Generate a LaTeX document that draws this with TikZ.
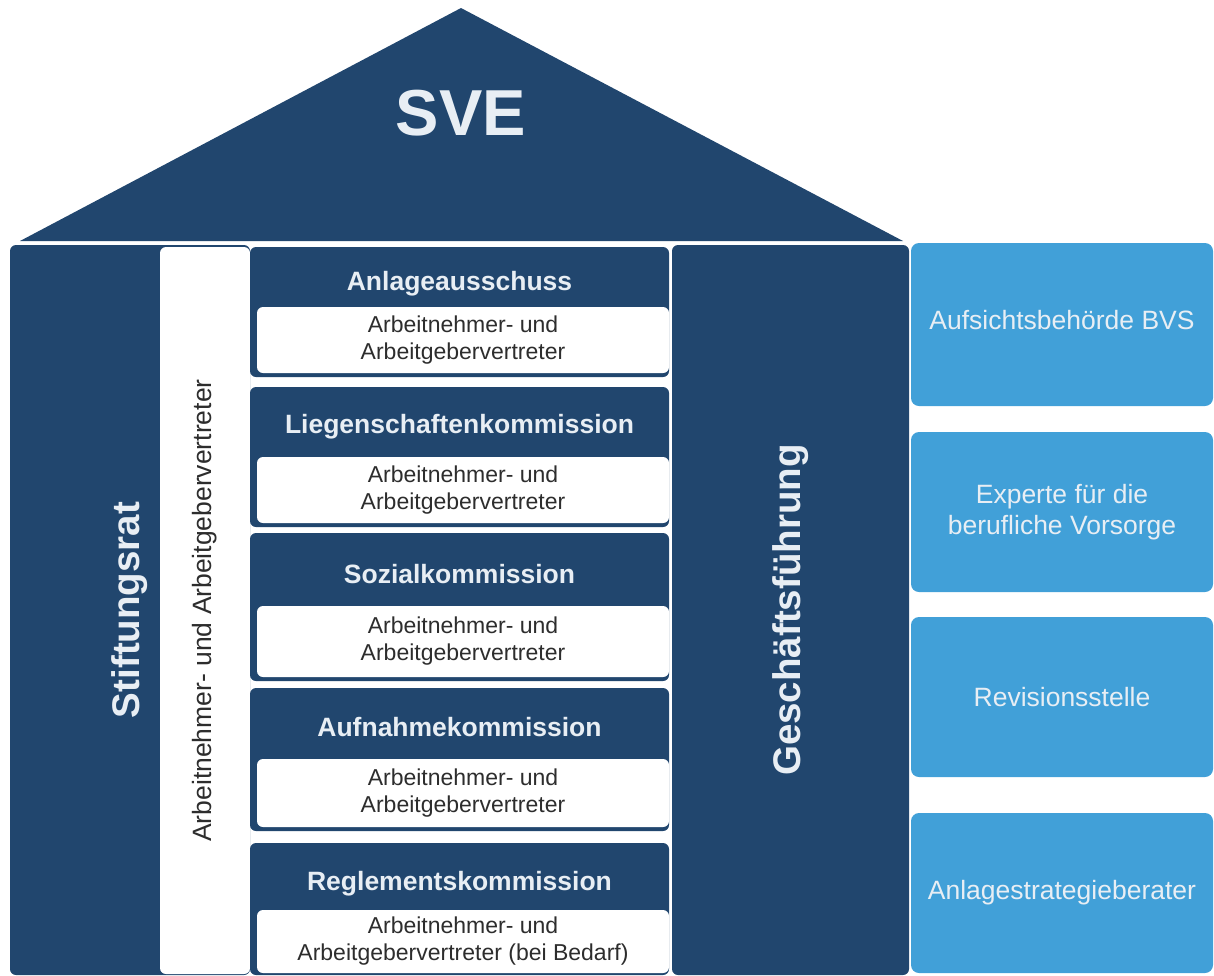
\documentclass[tikz,border=0pt]{standalone}
\usepackage{fontspec}
\setmainfont{Liberation Sans}
\usepackage{xcolor}
\usetikzlibrary{positioning, calc}

\definecolor{navy}{RGB}{33,70,110}
\definecolor{skyblue}{RGB}{65,160,216}
\definecolor{paletext}{RGB}{232,238,244}
\definecolor{darktext}{RGB}{45,45,45}

\begin{document}
\begin{tikzpicture}[
    x=1pt, y=-1pt,
    pillar/.style={
        rectangle,
        fill=navy,
        rounded corners=6pt,
        inner sep=0pt
    },
    whitecol/.style={
        rectangle,
        fill=white,
        rounded corners=6pt,
        inner sep=0pt
    },
    kommbox/.style={
        pillar,
        minimum width=419pt
    },
    kommtitle/.style={
        text=paletext,
        font=\fontsize{26.5}{30}\selectfont\bfseries
    },
    memberbox/.style={
        whitecol,
        minimum width=412pt,
        align=center,
        text=darktext,
        font=\fontsize{23}{27}\selectfont
    },
    infobox/.style={
        rectangle,
        fill=skyblue,
        rounded corners=8pt,
        minimum width=302pt,
        minimum height=160pt,
        inner sep=0pt,
        align=center,
        text=paletext,
        font=\fontsize{26.5}{31}\selectfont
    },
    bigtitle/.style={
        text=paletext,
        font=\fontsize{38.5}{40}\selectfont\bfseries
    }
]

\useasboundingbox (0,0) rectangle (1214,975);

% Dach
\fill[navy] (461,8) -- (903,241) -- (20,241) -- cycle;
\node[text=paletext, font=\fontsize{65}{70}\selectfont\bfseries] (sve) at (461,113) {SVE};

% Stiftungsrat mit Vertreterspalte
\node[pillar, minimum width=240pt, minimum height=730pt] (rat) at (130,610) {};
\node[bigtitle, rotate=90] (ratT) at (130,610) {Stiftungsrat};
\node[whitecol, minimum width=90pt, minimum height=727pt] (vertreter) at (205,610.5) {};
\node[rotate=90, text=darktext, font=\fontsize{26.5}{30}\selectfont] (vertreterT) at (vertreter.center)
    {Arbeitnehmer- und Arbeitgebervertreter};

% Kommissionen
\node[kommbox, minimum height=130pt] (anlage) at (459.5,312) {};
\node[kommtitle] (anlageT) at (459.5,284) {Anlageausschuss};
\node[memberbox, minimum height=66pt] (anlageM) at (463,340)
    {Arbeitnehmer- und\\Arbeitgebervertreter};

\node[kommbox, minimum height=140pt] (liegen) at (459.5,457) {};
\node[kommtitle] (liegenT) at (459.5,427) {Liegenschaftenkommission};
\node[memberbox, minimum height=66pt] (liegenM) at (463,490)
    {Arbeitnehmer- und\\Arbeitgebervertreter};

\node[kommbox, minimum height=148pt] (sozial) at (459.5,607) {};
\node[kommtitle] (sozialT) at (459.5,574) {Sozialkommission};
\node[memberbox, minimum height=71pt] (sozialM) at (463,641.5)
    {Arbeitnehmer- und\\Arbeitgebervertreter};

\node[kommbox, minimum height=143pt] (aufnahme) at (459.5,759.5) {};
\node[kommtitle] (aufnahmeT) at (459.5,727) {Aufnahmekommission};
\node[memberbox, minimum height=68pt] (aufnahmeM) at (463,793)
    {Arbeitnehmer- und\\Arbeitgebervertreter};

\node[kommbox, minimum height=132pt] (reglement) at (459.5,909) {};
\node[kommtitle] (reglementT) at (459.5,884) {Reglementskommission};
\node[memberbox, minimum height=63pt] (reglementM) at (463,941.5)
    {Arbeitnehmer- und\\Arbeitgebervertreter (bei Bedarf)};

% Geschaeftsfuehrung
\node[pillar, minimum width=237pt, minimum height=730pt] (gf) at (790.5,610) {};
\node[bigtitle, rotate=90] (gfT) at (gf.center) {Geschäftsführung};

% externe Stellen
\node[infobox, minimum height=163pt] (bvs) at (1062,324.5) {};
\node[text=paletext, font=\fontsize{26.5}{31}\selectfont] (bvsT) at (1062,320) {Aufsichtsbehörde BVS};
\node[infobox] (experte) at (1062,512) {Experte für die\\berufliche Vorsorge};
\node[infobox] (revision) at (1062,697) {Revisionsstelle};
\node[infobox] (berater) at (1062,893) {Anlagestrategieberater};

\end{tikzpicture}
\end{document}
